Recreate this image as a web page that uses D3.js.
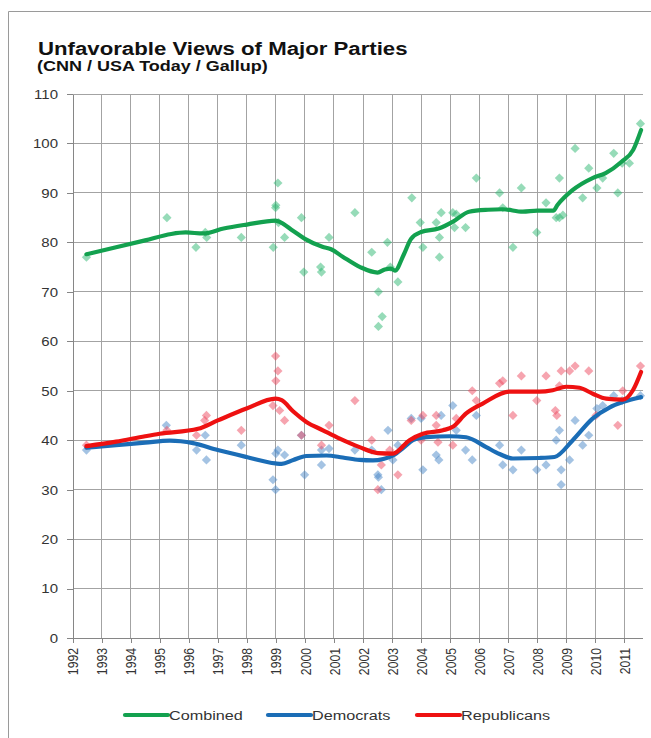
<!DOCTYPE html>
<html><head><meta charset="utf-8">
<script src="https://cdn.jsdelivr.net/npm/d3@7"></script>
<style>
body{margin:0;background:#fff;}
svg{display:block;font-family:"Liberation Sans",Arial,sans-serif;}
</style>
</head><body>
<svg id="chart" width="651" height="738"></svg>
<script>
// ---------- data ----------
const yearTicks = [1992,1993,1994,1995,1996,1997,1998,1999,2000,2001,2002,2003,2004,2005,2006,2007,2008,2009,2010,2011];
const valueTicks = [0,10,20,30,40,50,60,70,80,90,100,110];
const seriesNames = ["Combined","Democrats","Republicans"];

const combinedPolls = [[1992.48,77],[1995.25,85],[1996.25,79],[1996.57,82],[1996.62,81],[1997.81,81],[1998.91,79],[1998.99,87],[1999.0,87.5],[1999.07,92],[1999.09,84],[1999.3,81],[1999.88,85],[1999.96,74],[2000.54,75],[2000.57,74],[2000.83,81],[2001.72,86],[2002.3,78],[2002.53,70],[2002.66,65],[2002.53,63],[2002.84,80],[2002.94,75],[2003.2,72],[2003.68,89],[2003.97,84],[2004.06,79],[2004.52,84],[2004.63,81],[2004.63,77],[2004.69,86],[2005.09,86],[2005.15,83],[2005.21,85.7],[2005.53,83],[2005.9,93],[2006.7,90],[2006.81,87],[2007.16,79],[2007.45,91],[2007.98,82],[2008.3,88],[2008.65,85],[2008.76,93],[2008.76,85],[2008.88,85.5],[2009.3,99],[2009.56,89],[2009.77,95],[2010.05,91],[2010.25,93],[2010.63,98],[2010.77,90],[2010.92,96],[2011.17,96],[2011.55,104]];

const democratPolls = [[1992.48,38],[1995.23,43],[1996.27,38],[1996.57,41],[1996.61,36],[1997.81,39],[1998.9,32],[1998.99,30],[1999.0,37.3],[1999.07,38],[1999.3,37],[1999.88,41],[1999.99,33],[2000.57,35],[2000.57,38],[2000.83,38.3],[2001.72,38],[2002.3,38],[2002.51,33],[2002.53,32.5],[2002.63,30],[2002.86,42],[2003.03,36],[2003.2,39],[2003.66,44.4],[2004.0,44.4],[2004.06,34],[2004.52,37],[2004.61,36],[2004.69,45],[2005.09,47],[2005.21,42],[2005.53,38],[2005.76,36],[2005.9,45],[2006.7,39],[2006.81,35],[2007.16,34],[2007.45,38],[2007.98,34],[2008.3,35],[2008.65,40],[2008.76,42],[2008.82,34],[2008.82,31],[2009.11,36],[2009.3,44],[2009.56,39],[2009.77,41],[2010.05,46.4],[2010.25,47],[2010.63,49],[2010.92,48],[2011.55,49]];

const republicanPolls = [[1992.48,39],[1995.25,42],[1996.27,41],[1996.55,44],[1996.61,45],[1997.81,42],[1998.9,47],[1998.99,57],[1999.0,52],[1999.07,54],[1999.13,46],[1999.3,44],[1999.88,41],[2000.57,39],[2000.83,43],[2001.72,48],[2002.3,40],[2002.51,30],[2002.63,35],[2002.92,38],[2003.2,33],[2003.66,44],[2004.0,40],[2004.06,45],[2004.52,45],[2004.52,43],[2004.58,39.6],[2005.09,39],[2005.21,44.4],[2005.76,50],[2005.9,48],[2006.7,51.5],[2006.81,52],[2007.16,45],[2007.45,53],[2007.98,48],[2008.3,53],[2008.62,46],[2008.67,45],[2008.76,51],[2008.82,54],[2009.11,54],[2009.3,55],[2009.77,54],[2010.02,45],[2010.77,43],[2010.94,50],[2011.55,55]];

const combinedTrend = [[1992.48,77.6],[1993.5,79.0],[1994.5,80.4],[1995.4,81.7],[1995.9,82.0],[1996.5,81.8],[1997.2,82.8],[1998.0,83.6],[1998.99,84.4],[1999.1,84.2],[1999.6,82.3],[2000.0,80.7],[2000.6,79.1],[2000.9,78.6],[2001.3,77.1],[2001.9,75.0],[2002.5,73.9],[2002.75,74.5],[2002.95,74.7],[2003.1,74.3],[2003.4,77.5],[2003.65,80.7],[2004.0,82.1],[2004.6,82.8],[2005.1,84.2],[2005.65,86.2],[2006.3,86.6],[2006.8,86.7],[2007.5,86.2],[2008.0,86.4],[2008.55,86.4],[2008.7,87.6],[2009.2,90.5],[2009.9,93.0],[2010.35,94.0],[2010.9,96.3],[2011.3,98.7],[2011.57,102.7]];

const democratTrend = [[1992.48,38.5],[1993.5,39.0],[1994.5,39.5],[1995.35,39.9],[1996.15,39.4],[1997.0,38.0],[1997.99,36.6],[1998.99,35.3],[1999.2,35.2],[1999.6,36.0],[2000.05,36.8],[2000.74,36.9],[2001.3,36.5],[2001.88,36.0],[2002.34,35.9],[2002.7,36.2],[2003.03,36.9],[2003.4,38.5],[2003.72,40.0],[2004.18,40.6],[2004.98,40.8],[2005.55,40.6],[2006.24,38.6],[2006.7,37.2],[2007.16,36.3],[2008.07,36.4],[2008.59,36.6],[2009.22,40.0],[2009.91,44.4],[2010.48,46.6],[2010.94,47.7],[2011.57,48.7]];

const republicanTrend = [[1992.48,38.8],[1993.5,39.7],[1994.5,40.8],[1995.0,41.3],[1996.32,42.3],[1997.0,44.0],[1997.99,46.4],[1998.99,48.4],[1999.2,48.1],[1999.6,45.8],[2000.05,43.7],[2000.62,42.0],[2001.2,40.3],[2001.88,38.6],[2002.51,37.4],[2003.03,37.3],[2003.6,40.0],[2004.06,41.3],[2004.75,42.0],[2005.09,42.7],[2005.55,45.4],[2006.12,47.4],[2007.04,49.8],[2008.07,49.8],[2008.53,50.1],[2008.99,50.8],[2009.45,50.6],[2009.91,49.4],[2010.37,48.4],[2010.94,48.2],[2011.29,50.1],[2011.57,53.8]];

// ---------- layout ----------
const SX = 1.2; // horizontal text stretch of the source image
const svg = d3.select('#chart');
const x = d3.scaleLinear().domain([1992, 2011.62]).range([72.5, 642.5]);
const y = d3.scaleLinear().domain([0, 110]).range([638, 94]);

svg.append('rect').attr('width',651).attr('height',738).attr('fill','#fff');
// outer frame
svg.append('path').attr('d','M8.5,738V11.5H651').attr('fill','none').attr('stroke','#9a9a9a').attr('stroke-width',1);

// title
svg.append('text').attr('transform','translate(38,55) scale(1.2,1)')
  .attr('font-size',18.5).attr('font-weight','bold').attr('fill','#111')
  .text('Unfavorable Views of Major Parties');
svg.append('text').attr('transform','translate(37,71) scale(1.2,1)')
  .attr('font-size',15).attr('font-weight','bold').attr('fill','#111')
  .text('(CNN / USA Today / Gallup)');

// grid
const grid = svg.append('g').attr('stroke','#a3a3a3').attr('stroke-width',1).attr('shape-rendering','crispEdges');
grid.selectAll('line.v').data(yearTicks.slice(1)).join('line').attr('class','v')
  .attr('x1',d=>x(d)).attr('x2',d=>x(d)).attr('y1',y(110)).attr('y2',y(0));
grid.selectAll('line.h').data(valueTicks.slice(1)).join('line').attr('class','h')
  .attr('x1',x.range()[0]).attr('x2',x.range()[1]).attr('y1',d=>y(d)).attr('y2',d=>y(d));

// axes
const yAx = svg.append('g').attr('transform',`translate(${x.range()[0]},0)`)
  .call(d3.axisLeft(y).tickValues(valueTicks).tickSize(6).tickSizeOuter(0));
const xAx = svg.append('g').attr('transform',`translate(0,${y(0)})`)
  .call(d3.axisBottom(x).tickValues(yearTicks).tickFormat(d3.format('d')).tickSize(5).tickSizeOuter(0));
[yAx,xAx].forEach(g=>{
  g.attr('shape-rendering','crispEdges');
  g.selectAll('path.domain').attr('stroke','#868686');
  g.selectAll('.tick line').attr('stroke','#868686');
  g.selectAll('text').attr('fill','#333').attr('font-family','"Liberation Sans",Arial,sans-serif').attr('font-size',12.5);
});
yAx.selectAll('.tick text').attr('x',0).attr('dy','0.35em')
  .attr('transform',`translate(-14.5,0) scale(${SX},1)`);
xAx.selectAll('.tick text').attr('x',0).attr('y',0).attr('dy','0.35em').attr('text-anchor','end')
  .attr('font-size',12.2)
  .attr('transform',`translate(0,10) scale(${SX},1) rotate(-90)`);

// points
const diamond = 'M0,-4.6L4.6,0L0,4.6L-4.6,0Z';
const pointSets = [
  {data: combinedPolls, fill:'#2db872', op:0.5},
  {data: democratPolls, fill:'#4a88c8', op:0.5},
  {data: republicanPolls, fill:'#ee4a60', op:0.5}
];
pointSets.forEach(s=>{
  svg.append('g').selectAll('path').data(s.data).join('path')
    .attr('d',diamond).attr('transform',d=>`translate(${x(d[0])},${y(d[1])})`)
    .attr('fill',s.fill).attr('fill-opacity',s.op);
});

// trend lines
const colors = {Combined:'#13a14f', Democrats:'#1b6db6', Republicans:'#ee1111'};
const line = d3.line().x(d=>x(d[0])).y(d=>y(d[1])).curve(d3.curveMonotoneX);
[[combinedTrend,'Combined'],[democratTrend,'Democrats'],[republicanTrend,'Republicans']].forEach(([data,name])=>{
  svg.append('path').datum(data).attr('d',line).attr('fill','none')
    .attr('stroke',colors[name]).attr('stroke-width',4.2)
    .attr('stroke-linejoin','round').attr('stroke-linecap','round');
});

// legend
const legendX = [125, 268, 417];
const lg = svg.append('g');
seriesNames.forEach((name,i)=>{
  lg.append('line').attr('x1',legendX[i]).attr('x2',legendX[i]+43).attr('y1',715).attr('y2',715)
    .attr('stroke',colors[name]).attr('stroke-width',4.2).attr('stroke-linecap','round');
  lg.append('text').attr('transform',`translate(${legendX[i]+44},720) scale(${SX},1)`)
    .attr('font-size',13.5).attr('fill','#333').text(name);
});
</script>
</body></html>
